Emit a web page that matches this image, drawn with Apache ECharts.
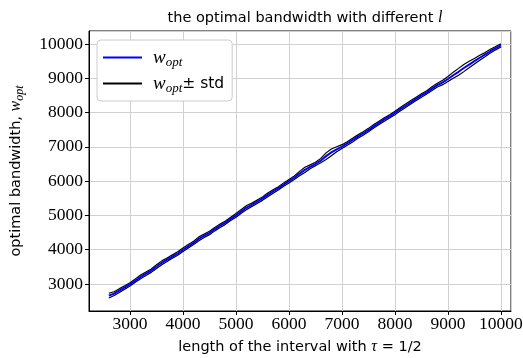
<html>
<head>
    <meta charset="UTF-8">
    <title>optimal bandwidth</title>
    <script src="https://cdn.jsdelivr.net/npm/echarts@6/dist/echarts.min.js"></script>
</head>
<body style="margin:0">
    <div id="container" style="width: 523px;height:358px;"></div>
</body>
<script>
    // interval length l
    var lengths = [2600, 2700, 2800, 2900, 3000, 3100, 3200, 3300, 3400, 3500,
        3600, 3700, 3800, 3900, 4000, 4100, 4200, 4300, 4400, 4500,
        4600, 4700, 4800, 4900, 5000, 5100, 5200, 5300, 5400, 5500,
        5600, 5700, 5800, 5900, 6000, 6100, 6200, 6300, 6400, 6500,
        6600, 6700, 6800, 6900, 7000, 7100, 7200, 7300, 7400, 7500,
        7600, 7700, 7800, 7900, 8000, 8100, 8200, 8300, 8400, 8500,
        8600, 8700, 8800, 8900, 9000, 9100, 9200, 9300, 9400, 9500,
        9600, 9700, 9800, 9900, 10000];
    // w_opt
    var wopt = [2660, 2720, 2810, 2900, 2990, 3100, 3210, 3300, 3390, 3510,
        3620, 3710, 3800, 3890, 4000, 4100, 4200, 4320, 4410, 4490,
        4600, 4700, 4790, 4900, 5000, 5120, 5230, 5310, 5400, 5490,
        5600, 5700, 5790, 5900, 6000, 6100, 6220, 6330, 6420, 6500,
        6600, 6730, 6840, 6930, 7010, 7100, 7200, 7300, 7390, 7490,
        7600, 7700, 7800, 7890, 7990, 8100, 8200, 8300, 8400, 8500,
        8590, 8700, 8800, 8880, 8980, 9090, 9190, 9300, 9400, 9500,
        9600, 9690, 9790, 9880, 9960];
    // std of w_opt
    var wstd = [70, 55, 55, 50, 50, 50, 55, 50, 50, 55,
        55, 50, 50, 50, 50, 50, 50, 55, 50, 50,
        50, 50, 50, 50, 55, 55, 60, 50, 50, 50,
        55, 50, 50, 50, 50, 50, 65, 75, 55, 50,
        65, 95, 100, 75, 55, 50, 55, 50, 50, 50,
        50, 50, 50, 50, 50, 50, 50, 50, 50, 50,
        50, 55, 55, 65, 75, 90, 100, 105, 95, 80,
        70, 60, 55, 50, 45];

    var meanLine = [], upper = [], lower = [];
    for (var i = 0; i < lengths.length; i++) {
        meanLine.push([lengths[i], wopt[i]]);
        upper.push([lengths[i], wopt[i] + wstd[i]]);
        lower.push([lengths[i], wopt[i] - wstd[i]]);
    }

    var serif = 'Liberation Serif';
    var sans = 'DejaVu Sans';

    var mycharts = echarts.init(document.getElementById('container'));
    var option = {
        animation: false,
        backgroundColor: '#fff',
        title: {
            text: 'the optimal bandwidth with different {l|l}',
            left: 300,
            textAlign: 'center',
            top: 5,
            textStyle: {
                fontFamily: sans, fontSize: 14.5, fontWeight: 'normal', color: '#000',
                rich: { l: { fontFamily: serif, fontStyle: 'italic', fontSize: 16, color: '#000' } }
            }
        },
        grid: {
            left: 89, right: 12, top: 31, bottom: 47,
            outerBoundsMode: 'none',
            show: true, borderColor: '#000', borderWidth: 1
        },
        legend: {
            orient: 'vertical',
            left: 97, top: 40,
            padding: [8, 8, 6, 6],
            itemGap: 5,
            itemWidth: 39, itemHeight: 2,
            icon: 'rect',
            backgroundColor: '#fff',
            borderColor: '#cccccc', borderWidth: 1, borderRadius: 4,
            data: ['w_opt', 'w_opt ± std'],
            formatter: function (name) {
                if (name === 'w_opt') return '{i|w}{s|opt}';
                return '{i|w}{s|opt}{n|± std}';
            },
            textStyle: {
                color: '#000',
                rich: {
                    i: { fontFamily: serif, fontStyle: 'italic', fontSize: 19, color: '#000', padding: [0, 0, 0, 6] },
                    s: { fontFamily: serif, fontStyle: 'italic', fontSize: 13, color: '#000', padding: [10, 0, 0, 0] },
                    n: { fontFamily: sans, fontSize: 15.5, color: '#000' }
                }
            }
        },
        xAxis: {
            type: 'value',
            min: 2226, max: 10190,
            minInterval: 1000, maxInterval: 1000, splitNumber: 8,
            name: 'length of the interval with {t|τ} = 1/2',
            nameLocation: 'middle',
            nameGap: 28,
            nameTextStyle: {
                fontFamily: sans, fontSize: 14.5, color: '#000',
                rich: { t: { fontFamily: serif, fontStyle: 'italic', fontSize: 16, color: '#000' } }
            },
            axisLine: { show: true, lineStyle: { color: '#000' } },
            axisTick: { show: true, length: 4, lineStyle: { color: '#000' } },
            axisLabel: {
                fontFamily: serif, fontSize: 17.5, color: '#000', margin: 4,
                showMinLabel: false, showMaxLabel: false,
                formatter: function (v) { return String(v); }
            },
            splitLine: { show: true, lineStyle: { color: '#d0d0d0', width: 1 } }
        },
        yAxis: {
            type: 'value',
            min: 2213, max: 10380,
            minInterval: 1000, maxInterval: 1000, splitNumber: 8,
            name: 'optimal bandwidth, {i|w}{s|opt}',
            nameLocation: 'middle',
            nameGap: 63,
            nameTextStyle: {
                fontFamily: sans, fontSize: 14.5, color: '#000',
                rich: {
                    i: { fontFamily: serif, fontStyle: 'italic', fontSize: 16, color: '#000' },
                    s: { fontFamily: serif, fontStyle: 'italic', fontSize: 12, color: '#000', padding: [8, 0, 0, 0] }
                }
            },
            axisLine: { show: true, lineStyle: { color: '#000' } },
            axisTick: { show: true, length: 4, lineStyle: { color: '#000' } },
            axisLabel: {
                fontFamily: serif, fontSize: 17.5, color: '#000', margin: 6,
                showMinLabel: false, showMaxLabel: false,
                formatter: function (v) { return String(v); }
            },
            splitLine: { show: true, lineStyle: { color: '#d0d0d0', width: 1 } }
        },
        series: [
            {
                name: 'w_opt', type: 'line', data: meanLine,
                symbol: 'none', z: 3,
                lineStyle: { color: '#0000ff', width: 2 },
                itemStyle: { color: '#0000ff' }
            },
            {
                name: 'w_opt ± std', type: 'line', data: upper,
                symbol: 'none', z: 2,
                lineStyle: { color: '#000', width: 1.2 },
                itemStyle: { color: '#000' }
            },
            {
                name: 'w_opt ± std', type: 'line', data: lower,
                symbol: 'none', z: 2,
                lineStyle: { color: '#000', width: 1.2 },
                itemStyle: { color: '#000' }
            }
        ]
    };
    mycharts.setOption(option);
</script>
</html>
